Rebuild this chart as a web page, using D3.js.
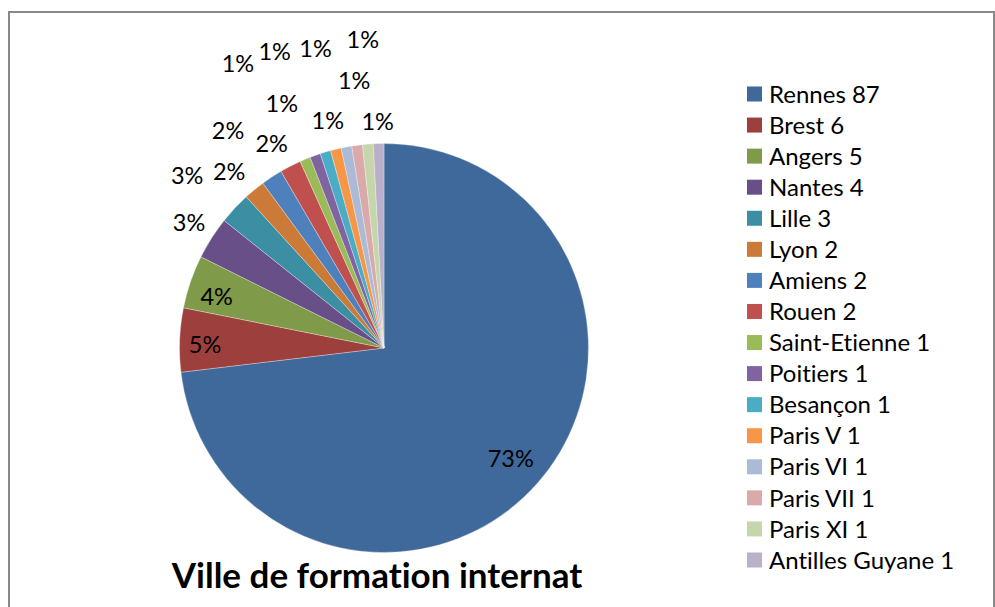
<!DOCTYPE html>
<html>
<head>
<meta charset="utf-8">
<script src="https://cdn.jsdelivr.net/npm/d3@7"></script>
<style>
  html, body { margin: 0; padding: 0; background: #fff; }
  svg { display: block; }
  text { font-family: Lato, "Open Sans", sans-serif; fill: #000; font-variant-ligatures: none; font-feature-settings: "liga" 0; }
</style>
</head>
<body>
<svg id="chart" width="995" height="607"></svg>
<script>
// ---- data ----
const categories = ["Rennes", "Brest", "Angers", "Nantes", "Lille", "Lyon", "Amiens", "Rouen",
  "Saint-Etienne", "Poitiers", "Besançon", "Paris V", "Paris VI", "Paris VII", "Paris XI", "Antilles Guyane"];
const values = [87, 6, 5, 4, 3, 2, 2, 2, 1, 1, 1, 1, 1, 1, 1, 1];
const title = "Ville de formation internat";

// ---- styling / layout ----
const colors = ["#3F699B", "#9D3F3C", "#7F9A48", "#694F87", "#3C8EA3", "#CC7A38", "#4E80BC", "#C0504D",
  "#9BBB59", "#8064A2", "#4BACC6", "#F79646", "#AABAD7", "#D9AAA9", "#C6D6AC", "#BAB0C9"];
// label placement (Excel best-fit): distance from centre and angle nudge (deg)
const labelDist = [168, 179, 175, 232, 262, 235, 268, 233, 265, 320, 316, 234, 307, 269, 309, 227];
const labelNudge = [-0.6, -1.3, -1.9, 0.3, -1.8, -1.9, -2.3, -1.6, 0, -7.5, -3.6, -0.3, -2.3, 1.2, 0.6, -0.1];

const svg = d3.select("#chart");
svg.append("rect")
  .attr("x", 9).attr("y", 12).attr("width", 985).attr("height", 620)
  .attr("fill", "#fff").attr("stroke", "#898989").attr("stroke-width", 2);

const cx = 384, cy = 348, R = 204.5;
const total = d3.sum(values);
const pie = d3.pie().sort(null).value(d => d)(values);
const arc = d3.arc().innerRadius(0).outerRadius(R);

const g = svg.append("g").attr("transform", `translate(${cx},${cy})`);
g.selectAll("path.slice").data(pie).join("path")
  .attr("class", "slice")
  .attr("d", arc)
  .attr("fill", (d, i) => colors[i])
  .attr("stroke", "#ffffff").attr("stroke-opacity", 0.5).attr("stroke-width", 0.6);

const pct = d3.format(".0%");
g.selectAll("text.lbl").data(pie).join("text")
  .attr("class", "lbl")
  .attr("text-anchor", "middle")
  .attr("font-size", 23.5)
  .attr("x", (d, i) => {
    const a = (d.startAngle + d.endAngle) / 2 + labelNudge[i] * Math.PI / 180;
    return Math.sin(a) * labelDist[i];
  })
  .attr("y", (d, i) => {
    const a = (d.startAngle + d.endAngle) / 2 + labelNudge[i] * Math.PI / 180;
    return -Math.cos(a) * labelDist[i];
  })
  .attr("dy", "0.36em")
  .text(d => pct(Math.round(d.value / total * 100) / 100));

// legend
const legY = d3.scalePoint().domain(d3.range(categories.length)).range([94, 560]);
const leg = svg.append("g");
const items = leg.selectAll("g").data(categories).join("g")
  .attr("transform", (d, i) => `translate(747,${legY(i)})`);
items.append("rect").attr("x", 0).attr("y", -7.5).attr("width", 15).attr("height", 15)
  .attr("fill", (d, i) => colors[i]);
items.append("text").attr("x", 22).attr("dy", "0.36em").attr("font-size", 24)
  .text((d, i) => `${d} ${values[i]}`);

// title
svg.append("text").attr("x", 377).attr("y", 588).attr("text-anchor", "middle")
  .attr("font-size", 35).attr("font-weight", "bold").text(title);
</script>
</body>
</html>
